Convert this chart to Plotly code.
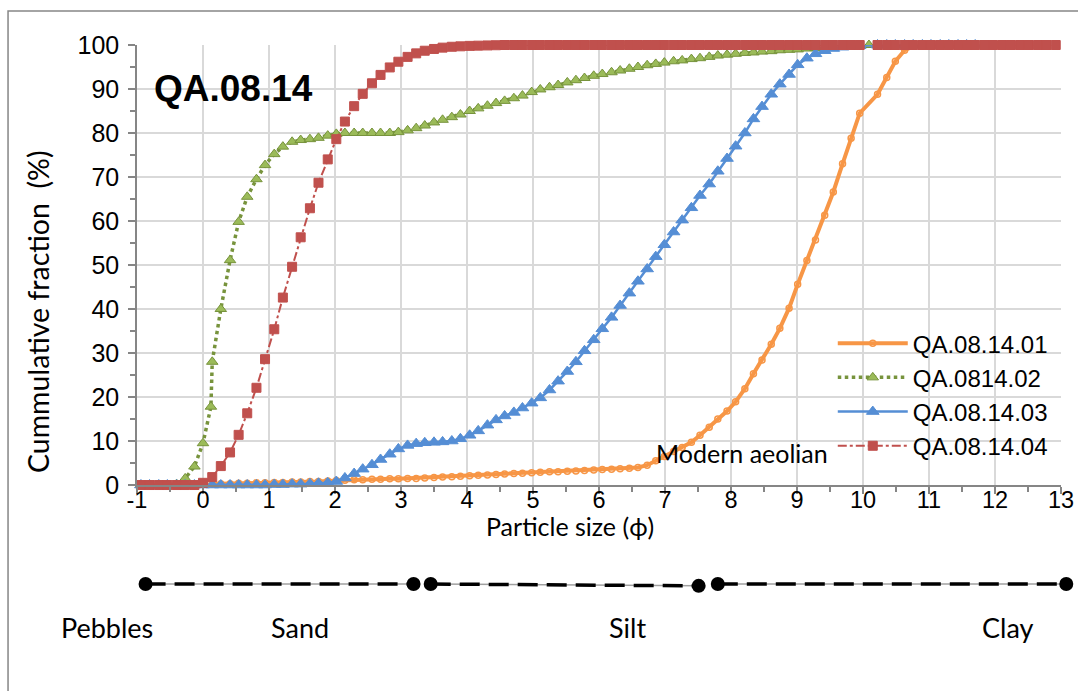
import plotly.graph_objects as go

# ---------------- data ----------------
PHI = [-0.94, -0.81, -0.67, -0.54, -0.40, -0.27, -0.13, 0.00, 0.14, 0.27,
       0.41, 0.54, 0.67, 0.81, 0.94, 1.08, 1.21, 1.35, 1.48, 1.62,
       1.75, 1.89, 2.02, 2.15, 2.29, 2.42, 2.56, 2.69, 2.83, 2.96,
       3.10, 3.23, 3.36, 3.50, 3.63, 3.77, 3.90, 4.04, 4.17, 4.31,
       4.44, 4.57, 4.71, 4.84, 4.98, 5.11, 5.25, 5.38, 5.52, 5.65,
       5.78, 5.92, 6.05, 6.19, 6.32, 6.46, 6.59, 6.73, 6.86, 6.99,
       7.13, 7.26, 7.40, 7.53, 7.67, 7.80, 7.94, 8.07, 8.21, 8.34,
       8.47, 8.61, 8.74, 8.88, 9.01, 9.15, 9.28, 9.42, 9.55, 9.69,
       9.82, 9.95, 10.09, 10.22, 10.36, 10.49, 10.63, 10.76, 10.90, 11.03,
       11.17, 11.30, 11.44, 11.57, 11.70, 11.84, 11.97, 12.11, 12.24, 12.38,
       12.51, 12.65, 12.78, 12.92]

S01 = [0, 0, 0, 0, 0, 0, 0, 0.1, 0.2, 0.3,
       0.3, 0.4, 0.4, 0.5, 0.5, 0.6, 0.6, 0.7, 0.7, 0.8,
       0.8, 0.9, 1.0, 1.1, 1.2, 1.2, 1.3, 1.3, 1.4, 1.4,
       1.5, 1.5, 1.6, 1.7, 1.8, 1.9, 2.0, 2.1, 2.2, 2.3,
       2.4, 2.5, 2.6, 2.7, 2.8, 2.9, 3.0, 3.0, 3.1, 3.2,
       3.3, 3.4, 3.5, 3.6, 3.7, 3.8, 4.0, 4.5, 5.5, 6.5,
       7.6, 8.5, 9.7, 11.3, 13.1, 15.0, 16.8, 18.9, 21.9, 25.3,
       28.4, 32.0, 35.6, 40.2, 45.6, 51.0, 55.7, 61.3, 66.6, 73.0,
       78.8, 84.5, None, 88.8, 92.6, 96.3, 98.8, 99.7, 100, 100,
       100, None, None, None, None, None, None, None, None, None,
       None, None, None, None]

S03 = [0, 0, 0, 0, 0, 0, 0, 0, 0, 0,
       0, 0, 0, 0, 0, 0.1, 0.1, 0.2, 0.2, 0.3,
       0.4, 0.5, 0.8, 1.6, 2.6, 3.6, 4.6, 5.8, 7.0, 8.2,
       9.0, 9.4, 9.6, 9.7, 9.8, 10.0, 10.5, 11.3, 12.3, 13.6,
       14.8, 15.7, 16.5, 17.5, 18.6, 19.8, 21.6, 23.6, 25.8, 28.0,
       30.5, 33.0, 35.5, 38.1, 40.8, 43.6, 46.3, 49.1, 51.9, 54.6,
       57.5, 60.2, 63.0, 65.8, 68.4, 71.3, 74.2, 77.0, 80.0, 83.2,
       86.0, 88.8, 91.1, 93.3, 95.5, 97.0, 98.0, 98.7, 99.2, 99.5,
       99.7, 99.85, None, 100, 100, 100, 100, 100, 100, 100,
       100, 100, 100, 100, 100, None, None, None, None, None,
       None, None, None, None]

S04 = [0, 0, 0, 0, 0, 0, 0, 0.5, 1.8, 4.3,
       7.4, 11.4, 16.3, 22.1, 28.6, 35.4, 42.6, 49.6, 56.3, 62.9,
       68.7, 74.0, 78.6, 82.6, 86.1, 88.9, 91.3, 93.2, 94.9, 96.2,
       97.3, 98.1, 98.7, 99.1, 99.4, 99.6, 99.7, 99.8, 99.85, 99.9,
       99.95, 100, 100, 100, 100, 100, 100, 100, 100, 100,
       100, 100, 100, 100, 100, 100, 100, 100, 100, 100,
       100, 100, 100, 100, 100, 100, 100, 100, 100, 100,
       100, 100, 100, 100, 100, 100, 100, 100, 100, 100,
       100, 100, None, 100, 100, 100, 100, 100, 100, 100,
       100, 100, 100, 100, 100, 100, 100, 100, 100, 100,
       100, 100, 100, 100]

S02_X = [-0.94, -0.81, -0.67, -0.54, -0.40, -0.27, -0.13,
         0.00, 0.12, 0.14, 0.27, 0.41, 0.54, 0.67, 0.81, 0.94,
         1.08, 1.21, 1.35, 1.48, 1.62, 1.75, 1.89, 2.02,
         2.15, 2.29, 2.42, 2.56, 2.69, 2.83, 2.96,
         3.10, 3.23, 3.36, 3.50, 3.63, 3.77, 3.90,
         4.04, 4.17, 4.31, 4.44, 4.57, 4.71, 4.84, 4.98,
         5.11, 5.25, 5.38, 5.52, 5.65, 5.78, 5.92,
         6.05, 6.19, 6.32, 6.46, 6.59, 6.73, 6.86, 6.99,
         7.13, 7.26, 7.40, 7.53, 7.67, 7.80, 7.94,
         8.07, 8.21, 8.34, 8.47, 8.61, 8.74, 8.88,
         9.01, 9.15, 9.28, 9.42, 9.55, 9.69, 9.82, 9.95, 10.09]
S02_Y = [0, 0, 0, 0, 0.2, 1.5, 4.2,
         9.5, 17.8, 28.0, 40.0, 51.1, 59.8, 65.5, 69.5, 72.7,
         75.2, 76.9, 78.0, 78.4, 78.6, 78.9, 79.4, 79.8,
         80.0, 80.0, 80.0, 80.0, 80.0, 80.0, 80.2,
         80.6, 81.1, 81.7, 82.4, 83.0, 83.6, 84.2,
         85.0, 85.6, 86.2, 86.8, 87.3, 87.9, 88.5, 89.3,
         89.9, 90.4, 90.9, 91.5, 92.0, 92.5, 93.0,
         93.4, 93.8, 94.2, 94.6, 95.0, 95.4, 95.7, 96.0,
         96.3, 96.5, 96.8, 97.0, 97.3, 97.6, 97.8,
         98.0, 98.2, 98.3, 98.5, 98.6, 98.8, 98.9,
         99.0, 99.2, 99.3, 99.5, 99.6, 99.7, 99.8, 99.9, 100]

SERIES_NAMES = ["QA.08.14.01", "QA.0814.02", "QA.08.14.03", "QA.08.14.04"]

X_TICKS = [-1, 0, 1, 2, 3, 4, 5, 6, 7, 8, 9, 10, 11, 12, 13]
X_TICK_LABELS = ["-1", "0", "1", "2", "3", "4", "5", "6", "7", "8", "9", "10", "11", "12", "13"]

# grain-size class scale (phi limits of the drawn segments)
SCALE_X = [-0.87, 3.19, None, 3.45, 7.51, None, 7.80, 13.08]
SCALE_Y = [0.445, 0.445, None, 0.445, 0.43, None, 0.445, 0.445]
CLASS_NAMES = ["Pebbles", "Sand", "Silt", "Clay"]
CLASS_POS = [-1.45, 1.47, 6.43, 12.19]

assert len(PHI) == len(S01) == len(S03) == len(S04)
assert len(S02_X) == len(S02_Y)

# ---------------- styles ----------------
ORANGE = "#F79646"
GREEN = "#77933C"
GREEN_FILL = "#9BBB59"
BLUE = "#558ED5"
RED = "#C0504D"
GRID = "#D9D9D9"
AXIS = "#868686"
TXT = "Liberation Sans, Arial, sans-serif"
CAL = "Lato, Carlito, Calibri, sans-serif"

fig = go.Figure()

fig.add_trace(go.Scatter(
    x=PHI, y=S01, name=SERIES_NAMES[0], mode="lines+markers", connectgaps=True,
    line=dict(color=ORANGE, width=4),
    marker=dict(symbol="circle-open", size=6, color=ORANGE, line=dict(width=1.5)),
    cliponaxis=False))
fig.add_trace(go.Scatter(
    x=S02_X, y=S02_Y, name=SERIES_NAMES[1], mode="lines+markers",
    line=dict(color=GREEN, width=3.5, dash="dot"),
    marker=dict(symbol="triangle-up", size=10, color=GREEN_FILL, line=dict(color=GREEN, width=1)),
    cliponaxis=False))
fig.add_trace(go.Scatter(
    x=PHI, y=S03, name=SERIES_NAMES[2], mode="lines+markers", connectgaps=True,
    line=dict(color=BLUE, width=2.5),
    marker=dict(symbol="triangle-up", size=11, color=BLUE, line=dict(color=BLUE, width=1)),
    cliponaxis=False))
fig.add_trace(go.Scatter(
    x=PHI, y=S04, name=SERIES_NAMES[3], mode="lines+markers", connectgaps=False,
    line=dict(color=RED, width=2, dash="dashdot"),
    marker=dict(symbol="square", size=9, color=RED, line=dict(color=RED, width=1)),
    cliponaxis=False))

# class scale below the chart
fig.add_trace(go.Scatter(
    x=SCALE_X, y=SCALE_Y, xaxis="x2", yaxis="y2", mode="lines", showlegend=False,
    line=dict(color="#A0A0A0", width=1.5), hoverinfo="skip", cliponaxis=False))
fig.add_trace(go.Scatter(
    x=SCALE_X, y=SCALE_Y, xaxis="x2", yaxis="y2", mode="lines+markers", showlegend=False,
    line=dict(color="black", width=3.5, dash="20px,9px"),
    marker=dict(symbol="circle", size=14, color="black"), hoverinfo="skip", cliponaxis=False))

for name, pos in zip(CLASS_NAMES, CLASS_POS):
    fig.add_annotation(x=pos, y=0.101, xref="x2", yref="y2", text=name, showarrow=False,
                       font=dict(family=CAL, size=27, color="black"), xanchor="center", yanchor="middle")

fig.add_annotation(x=9.5, y=7.3, xref="x", yref="y", text="Modern aeolian", showarrow=False,
                   font=dict(family=CAL, size=25, color="black"), xanchor="right", yanchor="middle")

fig.add_annotation(x=0.0537, y=0.931, xref="paper", yref="paper", text="<b>QA.08.14</b>",
                   showarrow=False, font=dict(family=TXT, size=37, color="black"),
                   xanchor="left", yanchor="middle")

fig.add_annotation(x=-0.064, y=0.5735, xref="paper", yref="paper",
                   text="Cummulative fraction \u00a0(%)",
                   showarrow=False, textangle=-90, font=dict(family=CAL, size=28.5, color="black"),
                   xanchor="center", yanchor="middle")

fig.add_annotation(x=0.4855, y=0.2316, xref="paper", yref="paper", text="Particle size (ϕ)",
                   showarrow=False, font=dict(family=CAL, size=25, color="black"),
                   xanchor="center", yanchor="middle")

# outer frame
fig.add_shape(type="rect", xref="paper", yref="paper", x0=-0.095, x1=1.03, y0=-0.06, y1=1.0543,
              line=dict(color=AXIS, width=1.5), fillcolor="rgba(0,0,0,0)", layer="below")

axis_common = dict(showgrid=True, gridcolor=GRID, gridwidth=1.5, showline=True, linecolor=AXIS,
                   linewidth=1.5, ticks="outside", ticklen=7, tickcolor=AXIS, tickwidth=1.5,
                   zeroline=False, automargin=False)

fig.update_layout(
    width=1078, height=691,
    margin=dict(l=100, r=10, t=45, b=20, autoexpand=False),
    paper_bgcolor="white", plot_bgcolor="white",
    showlegend=True,
    legend=dict(x=0.757, y=0.559, xanchor="left", yanchor="top", bgcolor="rgba(0,0,0,0)",
                font=dict(family=TXT, size=24, color="black"), itemwidth=70, tracegroupgap=0),
    xaxis=dict(range=[-1, 13], tickmode="array", tickvals=X_TICKS, ticktext=X_TICK_LABELS,
               domain=[0.038223, 0.992769], anchor="y", ticklabelstandoff=-14,
               tickfont=dict(family=TXT, size=23.5, color="black"),
               minor=dict(dtick=0.5, tick0=-1, ticks="outside", ticklen=5, tickcolor=AXIS, showgrid=False),
               **axis_common),
    yaxis=dict(range=[0, 100], dtick=10, tick0=0, domain=[0.2971, 1], anchor="x",
               ticklabelstandoff=4, tickfont=dict(family=TXT, size=25, color="black"),
               minor=dict(dtick=5, tick0=0, ticks="outside", ticklen=5, tickcolor=AXIS, showgrid=False),
               **axis_common),
    xaxis2=dict(range=[-1.5606, 13.1061], domain=[0, 1], anchor="y2", visible=False),
    yaxis2=dict(range=[0, 1], domain=[0.05, 0.25], anchor="x2", visible=False),
)

fig.write_html("out.html")
